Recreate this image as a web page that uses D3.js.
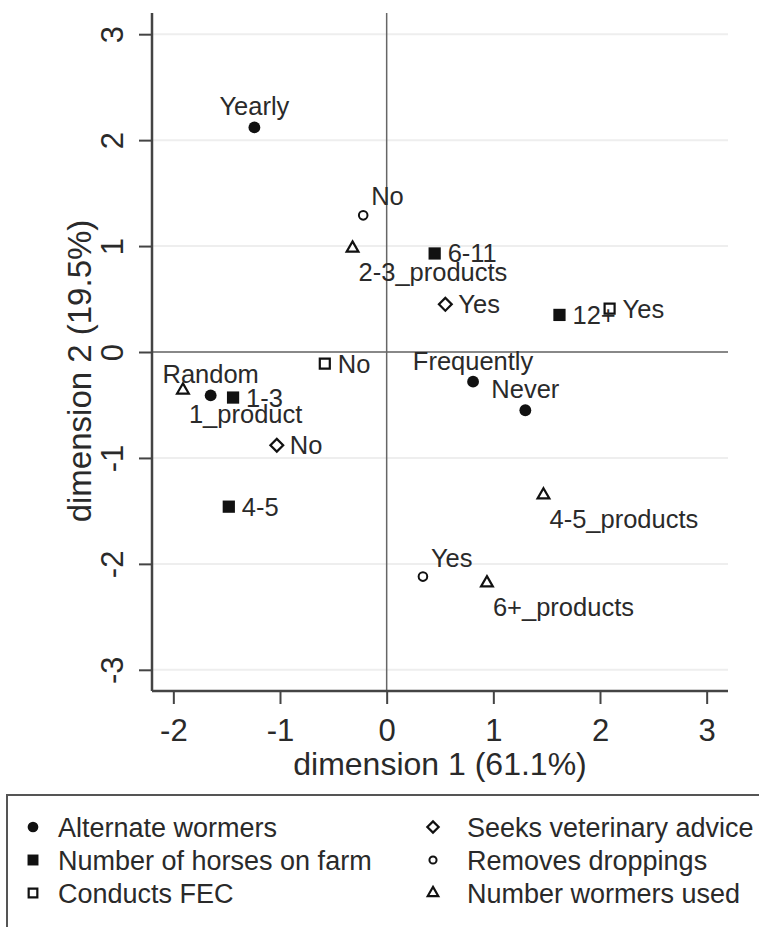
<!DOCTYPE html>
<html>
<head>
<meta charset="utf-8">
<script src="https://cdn.jsdelivr.net/npm/d3@7"></script>
<style>
  body { margin: 0; background: #fff; }
  svg text { font-family: "Liberation Sans", Arial, Helvetica, sans-serif; fill: #2a2a2a; }
</style>
</head>
<body>
<svg id="chart" width="759" height="927"></svg>
<script>
// category groups (legend order)
var groups = ["Alternate wormers", "Number of horses on farm", "Conducts FEC",
              "Seeks veterinary advice", "Removes droppings", "Number wormers used"];

// points
var pointLabels = ["Yearly", "Random", "Frequently", "Never",
                   "1-3", "4-5", "6-11", "12+",
                   "No", "Yes",
                   "Yes", "No",
                   "No", "Yes",
                   "1_product", "2-3_products", "4-5_products", "6+_products"];
var pointGroup  = [0, 0, 0, 0, 1, 1, 1, 1, 2, 2, 3, 3, 4, 4, 5, 5, 5, 5];
var dim1 = [-1.24, -1.65, 0.81, 1.30, -1.44, -1.48, 0.45, 1.62, -0.58, 2.09, 0.55, -1.03, -0.22, 0.34, -1.91, -0.32, 1.47, 0.94];
var dim2 = [2.12, -0.41, -0.28, -0.55, -0.43, -1.46, 0.93, 0.35, -0.11, 0.41, 0.45, -0.88, 1.29, -2.12, -0.36, 0.98, -1.35, -2.18];

var xTicks = [-2, -1, 0, 1, 2, 3];
var yTicks = [-3, -2, -1, 0, 1, 2, 3];
var xTitle = "dimension 1 (61.1%)";
var yTitle = "dimension 2 (19.5%)";

// marker style and label placement per group
var markers = [
  { type: d3.symbolCircle, size: 110, fill: "#111", stroke: "none", sw: 0, rot: 0 },
  { type: d3.symbolSquare, size: 150, fill: "#111", stroke: "none", sw: 0, rot: 0 },
  { type: d3.symbolSquare, size: 100, fill: "#fff", stroke: "#111", sw: 2.2, rot: 0 },
  { type: d3.symbolSquare, size: 82, fill: "#fff", stroke: "#111", sw: 2.2, rot: 45 },
  { type: d3.symbolCircle, size: 58, fill: "#fff", stroke: "#111", sw: 2, rot: 0 },
  { type: d3.symbolTriangle, size: 60, fill: "#fff", stroke: "#111", sw: 2.2, rot: 0 }
];
// label offset: dx, dy (baseline), anchor
var labelPos = [
  { dx: 0, dy: -12, anchor: "middle" },
  { dx: 13, dy: 9, anchor: "start" },
  { dx: 13, dy: 9, anchor: "start" },
  { dx: 13, dy: 9, anchor: "start" },
  { dx: 8, dy: -10, anchor: "start" },
  { dx: 6, dy: 33, anchor: "start" }
];

var svg = d3.select("#chart");

var x = d3.scaleLinear().domain([-2.2, 3.2]).range([152, 728]);
var y = d3.scaleLinear().domain([-3.2, 3.2]).range([691, 13]);

// faint grid
svg.append("g").selectAll("line")
  .data(yTicks)
  .enter().append("line")
  .attr("x1", x.range()[0]).attr("x2", x.range()[1])
  .attr("y1", function(d) { return y(d); }).attr("y2", function(d) { return y(d); })
  .attr("stroke", "#eeeeee").attr("stroke-width", 2);

// zero reference lines
svg.append("line")
  .attr("x1", x(0)).attr("x2", x(0)).attr("y1", y.range()[1]).attr("y2", y.range()[0])
  .attr("stroke", "#666").attr("stroke-width", 1.5);
svg.append("line")
  .attr("x1", x.range()[0]).attr("x2", x.range()[1]).attr("y1", y(0)).attr("y2", y(0))
  .attr("stroke", "#666").attr("stroke-width", 1.5);

// axes (plain hyphen for negatives, like the original)
var fmt = function(d) { return String(d); };
var xAxis = d3.axisBottom(x).tickValues(xTicks).tickSize(13).tickPadding(4).tickFormat(fmt);
var yAxis = d3.axisLeft(y).tickValues(yTicks).tickSize(13).tickPadding(4).tickFormat(fmt);

var gx = svg.append("g").attr("transform", "translate(0," + y.range()[0] + ")").call(xAxis);
var gy = svg.append("g").attr("transform", "translate(" + x.range()[0] + ",0)").call(yAxis);

[gx, gy].forEach(function(g) {
  g.select(".domain").attr("stroke", "#444").attr("stroke-width", 2.5);
  g.selectAll(".tick line").attr("stroke", "#444").attr("stroke-width", 2);
  g.selectAll(".tick text").attr("fill", "#2a2a2a").style("font-size", "31px");
});
gx.select(".domain").attr("d", "M" + x.range()[0] + ",0H" + x.range()[1]);
gy.select(".domain").attr("d", "M0," + y.range()[0] + "V" + y.range()[1]);

gx.selectAll(".tick text").attr("y", 0).attr("dy", null).attr("transform", "translate(0,50)");
gy.selectAll(".tick text")
  .attr("x", null).attr("dy", null)
  .attr("text-anchor", "middle")
  .attr("transform", "translate(-29,0) rotate(-90)");

// axis titles
svg.append("text")
  .attr("x", (x.range()[0] + x.range()[1]) / 2).attr("y", 775)
  .attr("text-anchor", "middle").style("font-size", "32px")
  .text(xTitle);
svg.append("text")
  .attr("transform", "translate(91,371) rotate(-90)")
  .attr("text-anchor", "middle").style("font-size", "33px")
  .text(yTitle);

// points
var pts = d3.range(pointLabels.length);

svg.append("g").selectAll("path")
  .data(pts)
  .enter().append("path")
  .attr("d", function(i) { var m = markers[pointGroup[i]]; return d3.symbol().type(m.type).size(m.size)(); })
  .attr("transform", function(i) {
    return "translate(" + x(dim1[i]) + "," + y(dim2[i]) + ") rotate(" + markers[pointGroup[i]].rot + ")";
  })
  .attr("fill", function(i) { return markers[pointGroup[i]].fill; })
  .attr("stroke", function(i) { return markers[pointGroup[i]].stroke; })
  .attr("stroke-width", function(i) { return markers[pointGroup[i]].sw; });

svg.append("g").selectAll("text")
  .data(pts)
  .enter().append("text")
  .attr("x", function(i) { return x(dim1[i]) + labelPos[pointGroup[i]].dx; })
  .attr("y", function(i) { return y(dim2[i]) + labelPos[pointGroup[i]].dy; })
  .attr("text-anchor", function(i) { return labelPos[pointGroup[i]].anchor; })
  .style("font-size", "25.5px")
  .text(function(i) { return pointLabels[i]; });

// legend
svg.append("rect")
  .attr("x", 7).attr("y", 795).attr("width", 800).attr("height", 200)
  .attr("fill", "#fff").attr("stroke", "#555").attr("stroke-width", 2);

var legendSizes = [90, 120, 75, 64, 40, 48];
var leg = svg.append("g").selectAll("g")
  .data(groups)
  .enter().append("g")
  .attr("transform", function(d, i) {
    return "translate(" + (i < 3 ? 33 : 433) + "," + (827 + (i % 3) * 33) + ")";
  });

leg.append("path")
  .attr("d", function(d, i) { return d3.symbol().type(markers[i].type).size(legendSizes[i])(); })
  .attr("transform", function(d, i) { return "rotate(" + markers[i].rot + ")"; })
  .attr("fill", function(d, i) { return markers[i].fill; })
  .attr("stroke", function(d, i) { return markers[i].stroke; })
  .attr("stroke-width", function(d, i) { return markers[i].sw; });

leg.append("text")
  .attr("x", function(d, i) { return i < 3 ? 25 : 34; })
  .attr("y", 10)
  .style("font-size", "27px")
  .text(function(d) { return d; });
</script>
</body>
</html>
